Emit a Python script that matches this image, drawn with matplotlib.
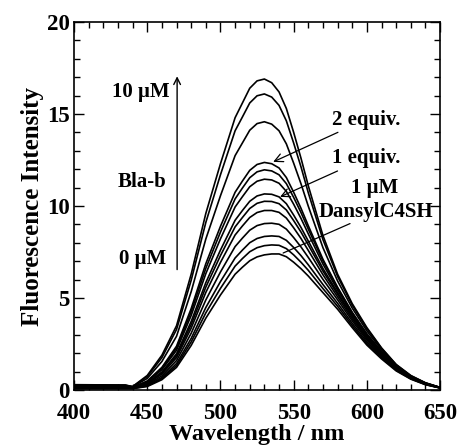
import matplotlib
matplotlib.use('Agg')
import matplotlib.pyplot as plt
from matplotlib.ticker import MultipleLocator

# wavelength grid (nm)
wl = [400, 435, 440, 450, 460, 470, 480, 490, 500, 510, 515, 520, 525, 530, 535,
      540, 545, 550, 555, 560, 570, 580, 590, 600, 610, 620, 630, 640, 650]

# fluorescence spectra, top (10 uM Bla-b) to bottom (0 uM)
c1 = [0.30, 0.28, 0.20, 0.80, 1.90, 3.50, 6.30, 9.60, 12.30, 14.80, 15.60, 16.40, 16.80, 16.90, 16.70,
      16.20, 15.30, 14.00, 12.60, 11.10, 8.40, 6.30, 4.70, 3.40, 2.30, 1.40, 0.80, 0.40, 0.15]
c2 = [0.28, 0.27, 0.19, 0.74, 1.77, 3.30, 5.97, 9.11, 11.70, 14.09, 14.84, 15.60, 15.99, 16.09, 15.92,
      15.47, 14.63, 13.42, 12.13, 10.72, 8.18, 6.18, 4.62, 3.34, 2.27, 1.38, 0.78, 0.40, 0.15]
c3 = [0.27, 0.26, 0.18, 0.64, 1.56, 2.93, 5.35, 8.21, 10.56, 12.74, 13.43, 14.12, 14.48, 14.58, 14.45,
      14.09, 13.38, 12.33, 11.21, 9.99, 7.74, 5.93, 4.46, 3.22, 2.19, 1.34, 0.76, 0.39, 0.15]
c4 = [0.25, 0.24, 0.15, 0.50, 1.24, 2.39, 4.43, 6.87, 8.90, 10.75, 11.36, 11.94, 12.26, 12.37, 12.30,
      12.07, 11.55, 10.75, 9.88, 8.93, 7.11, 5.59, 4.23, 3.06, 2.09, 1.29, 0.73, 0.37, 0.14]
c5 = [0.24, 0.23, 0.14, 0.47, 1.18, 2.29, 4.26, 6.62, 8.59, 10.39, 10.98, 11.54, 11.86, 11.97, 11.91,
      11.70, 11.22, 10.47, 9.65, 8.75, 7.02, 5.54, 4.20, 3.04, 2.08, 1.28, 0.73, 0.37, 0.14]
c6 = [0.22, 0.21, 0.14, 0.44, 1.11, 2.17, 4.06, 6.33, 8.22, 9.95, 10.51, 11.05, 11.35, 11.46, 11.42,
      11.24, 10.80, 10.10, 9.33, 8.49, 6.85, 5.44, 4.13, 2.98, 2.05, 1.26, 0.72, 0.36, 0.14]
c7 = [0.20, 0.19, 0.13, 0.39, 0.99, 1.98, 3.73, 5.84, 7.61, 9.23, 9.76, 10.26, 10.55, 10.66, 10.64,
      10.50, 10.13, 9.51, 8.84, 8.10, 6.61, 5.30, 4.04, 2.92, 2.01, 1.24, 0.70, 0.36, 0.14]
c8 = [0.18, 0.17, 0.12, 0.36, 0.94, 1.88, 3.56, 5.60, 7.31, 8.87, 9.38, 9.87, 10.15, 10.26, 10.25,
      10.13, 9.79, 9.21, 8.59, 7.89, 6.47, 5.21, 3.98, 2.87, 1.98, 1.22, 0.69, 0.35, 0.14]
c9 = [0.16, 0.15, 0.12, 0.33, 0.88, 1.77, 3.37, 5.31, 6.94, 8.43, 8.92, 9.38, 9.65, 9.76, 9.76,
      9.66, 9.35, 8.82, 8.24, 7.59, 6.27, 5.07, 3.88, 2.80, 1.93, 1.19, 0.68, 0.34, 0.13]
c10 = [0.14, 0.13, 0.11, 0.29, 0.78, 1.61, 3.09, 4.90, 6.42, 7.80, 8.26, 8.69, 8.94, 9.05, 9.07,
       9.01, 8.75, 8.29, 7.78, 7.21, 6.02, 4.91, 3.77, 2.72, 1.88, 1.16, 0.66, 0.33, 0.13]
c11 = [0.12, 0.11, 0.10, 0.25, 0.69, 1.45, 2.81, 4.49, 5.90, 7.18, 7.61, 8.01, 8.24, 8.35, 8.38,
       8.35, 8.14, 7.75, 7.31, 6.81, 5.74, 4.72, 3.63, 2.62, 1.81, 1.12, 0.64, 0.32, 0.13]
c12 = [0.10, 0.10, 0.09, 0.23, 0.63, 1.34, 2.62, 4.20, 5.53, 6.74, 7.15, 7.52, 7.74, 7.85, 7.89,
       7.87, 7.69, 7.35, 6.95, 6.51, 5.52, 4.56, 3.51, 2.53, 1.76, 1.08, 0.62, 0.31, 0.12]
c13 = [0.08, 0.08, 0.09, 0.20, 0.57, 1.24, 2.43, 3.91, 5.17, 6.30, 6.68, 7.03, 7.24, 7.35, 7.40,
       7.40, 7.25, 6.95, 6.60, 6.20, 5.30, 4.40, 3.40, 2.45, 1.70, 1.05, 0.60, 0.30, 0.12]

spectra = [c1, c2, c3, c4, c5, c6, c7, c8, c9, c10, c11, c12, c13]

plt.rcParams['font.family'] = ['Liberation Serif', 'DejaVu Serif']
plt.rcParams['font.weight'] = 'bold'

fig = plt.figure(figsize=(4.57, 4.48), dpi=100)
ax = fig.add_axes([0.162, 0.129, 0.801, 0.822])

for s in spectra:
    ax.plot(wl, s, color='black', lw=1.2)

ax.set_xlim(400, 650)
ax.set_ylim(0, 20)
ax.xaxis.set_major_locator(MultipleLocator(50))
ax.xaxis.set_minor_locator(MultipleLocator(10))
ax.yaxis.set_major_locator(MultipleLocator(5))
ax.yaxis.set_minor_locator(MultipleLocator(1))
ax.tick_params(which='both', direction='in', top=True, right=True, labelsize=16.5, width=1)
ax.tick_params(which='major', length=7)
ax.tick_params(which='minor', length=4)
ax.tick_params(axis='x', which='major', pad=9)
ax.tick_params(axis='y', which='major', pad=3)
for sp in ax.spines.values():
    sp.set_linewidth(1.2)
for lab in ax.get_xticklabels() + ax.get_yticklabels():
    lab.set_fontweight('bold')

ax.set_xlabel('Wavelength / nm', fontsize=17.5, fontweight='bold', labelpad=0)
ax.set_ylabel('Fluorescence Intensity', fontsize=18, fontweight='bold', labelpad=2)

# titration arrow
ax.annotate('', xy=(470.4, 17.2), xytext=(470.4, 6.4),
            arrowprops=dict(arrowstyle='->', color='black', lw=1, mutation_scale=12))
ax.text(465, 16.2, '10 μM', fontsize=15, fontweight='bold', ha='right', va='center')
ax.text(463, 11.3, 'Bla-b', fontsize=15, fontweight='bold', ha='right', va='center')
ax.text(463, 7.1, '0 μM', fontsize=15, fontweight='bold', ha='right', va='center')

ax.annotate('2 equiv.', xy=(536, 12.4), xytext=(576, 14.7), fontsize=15, fontweight='bold',
            ha='left', va='center',
            arrowprops=dict(arrowstyle='->', color='black', lw=0.9, shrinkA=0, shrinkB=0))
ax.annotate('1 equiv.', xy=(540.7, 10.5), xytext=(576, 12.6), fontsize=15, fontweight='bold',
            ha='left', va='center',
            arrowprops=dict(arrowstyle='->', color='black', lw=0.9, shrinkA=0, shrinkB=0))
ax.text(605, 11.0, '1 μM', fontsize=15, fontweight='bold', ha='center', va='center')
ax.text(606, 9.67, 'DansylC4SH', fontsize=15, fontweight='bold', ha='center', va='center')
ax.annotate('', xy=(542.8, 7.45), xytext=(588.5, 9.05),
            arrowprops=dict(arrowstyle='-', color='black', lw=0.9, shrinkA=0, shrinkB=0))

fig.savefig('out.png', dpi=100)
